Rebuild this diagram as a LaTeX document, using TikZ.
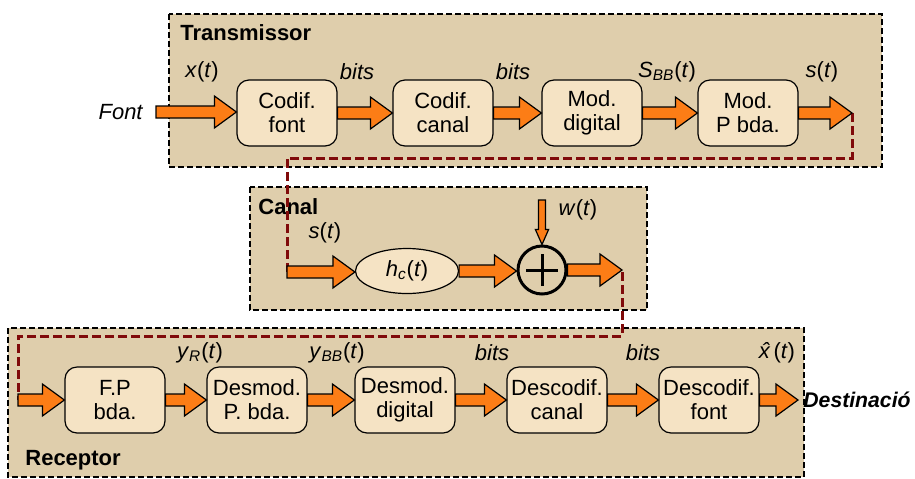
\documentclass[tikz,border=0pt]{standalone}
\usepackage{fontspec}
\setmainfont{Liberation Sans}
\usetikzlibrary{calc,shapes.geometric}

\definecolor{groupbg}{RGB}{223,206,172}
\definecolor{boxbg}{RGB}{245,227,196}
\definecolor{arrowor}{RGB}{252,125,22}
\definecolor{linkred}{RGB}{128,10,10}

\newcommand{\sz}{\fontsize{11}{12}\selectfont}

\tikzset{
  group/.style={draw, fill=groupbg, dash pattern=on 3pt off 1.5pt, line width=0.6pt},
  block/.style={draw, fill=boxbg, rounded corners=6pt, minimum width=50pt,
    minimum height=33pt, align=center, line width=0.6pt, inner sep=1pt},
  title/.style={font=\sz\bfseries, anchor=west, inner sep=0pt},
  link/.style={draw=linkred, line width=1.5pt, dash pattern=on 4.5pt off 2pt},
  fatarr/.style={draw, fill=arrowor, line width=0.6pt, line join=miter}
}

% thick orange arrow from #1 to #2 (horizontal)
\newcommand{\fatarrow}[2]{%
  \draw[fatarr] let \p1=(#1), \p2=(#2) in
    (\x1,\y1+3pt) -- (\x2-11pt,\y1+3pt) -- (\x2-11pt,\y1+8pt) -- (\x2,\y1)
    -- (\x2-11pt,\y1-8pt) -- (\x2-11pt,\y1-3pt) -- (\x1,\y1-3pt) -- cycle;}

\begin{document}
\begin{tikzpicture}[x=0.5pt, y=-0.5pt, font=\sz]
  \useasboundingbox (0,0) rectangle (915,478);

  % groups
  \draw[group] (169,14) rectangle (882,167);
  \draw[group] (250,187) rectangle (647,310);
  \draw[group] (8,328) rectangle (804,477);
  \node[title] (ttx) at (180,33) {Transmissor};
  \node[title] (tch) at (258,207) {Canal};
  \node[title] (trx) at (25,460) {Receptor};

  % free ends
  \coordinate (sout) at (852,113);
  \coordinate (cin) at (287,272);
  \coordinate (cout) at (622,272);
  \coordinate (rin) at (18,400);
  \coordinate (wtop) at (542,200);

  % channel links
  \draw[link] (sout) -- ++(0,45) -| (cin);
  \draw[link] (cout) -- ++(0,64) -| (rin);

  % transmissor
  \node[font=\sz\itshape, anchor=east, inner sep=6.5pt] (font) at (156,112) {Font};
  \node[block] (cf) at (287,113) {Codif.\\font};
  \node[block] (cc) at (443,113) {Codif.\\canal};
  \node[block] (md) at (592,113) {Mod.\\digital};
  \node[block] (mp) at (748,113) {Mod.\\P bda.};
  \fatarrow{font.east}{cf.west}
  \fatarrow{cf.east}{cc.west}
  \fatarrow{cc.east}{md.west}
  \fatarrow{md.east}{mp.west}
  \fatarrow{mp.east}{sout}
  \node (lx) at (202,72) {\textit{x}(\textit{t})};
  \node (lb1) at (357,72) {\textit{bits}};
  \node (lb2) at (513,72) {\textit{bits}};
  \node (lsbb) at (667,72) {\textit{S}\textsubscript{\textit{BB}}(\textit{t})};
  \node (ls) at (822,72) {\textit{s}(\textit{t})};

  % canal
  \node[draw, ellipse, fill=boxbg, minimum width=51.5pt, minimum height=22.5pt,
    line width=0.6pt, inner sep=0pt] (hc) at (407,271)
    {\textit{h}\textsubscript{\textit{c}}(\textit{t})};
  \node[draw, circle, line width=1.5pt, minimum size=24pt, inner sep=0pt] (sum) at (542,270) {};
  \draw[line width=1.5pt] ([xshift=-8pt]sum.center) -- ([xshift=8pt]sum.center)
    ([yshift=-8pt]sum.center) -- ([yshift=8pt]sum.center);
  \fatarrow{cin}{hc.west}
  \fatarrow{hc.east}{sum.west}
  \fatarrow{sum.east}{cout}
  \draw[fatarr] let \p1=(wtop), \p2=(sum.north) in
    (\x1-1.75pt,\y1) -- (\x1-1.75pt,\y2+7.5pt) -- (\x1-3.3pt,\y2+7.5pt) -- (\x1,\y2)
    -- (\x1+3.3pt,\y2+7.5pt) -- (\x1+1.75pt,\y2+7.5pt) -- (\x1+1.75pt,\y1) -- cycle;
  \node (lcs) at (325,233) {\textit{s}(\textit{t})};
  \node (lw) at (578,210) {\textit{w}(\textit{t})};

  % receptor
  \node[block] (fp) at (115,400) {F.P\\bda.};
  \node[block] (dp) at (257,400) {Desmod.\\P. bda.};
  \node[block] (dd) at (405,400) {Desmod.\\digital};
  \node[block] (dc) at (557,400) {Descodif.\\canal};
  \node[block] (df) at (709,400) {Descodif.\\font};
  \node[font=\fontsize{10.6}{12}\selectfont\bfseries\itshape, anchor=west, inner sep=2.5pt]
    (dest) at (798,400) {Destinació};
  \fatarrow{rin}{fp.west}
  \fatarrow{fp.east}{dp.west}
  \fatarrow{dp.east}{dd.west}
  \fatarrow{dd.east}{dc.west}
  \fatarrow{dc.east}{df.west}
  \fatarrow{df.east}{dest.west}
  \node (lyr) at (200,353) {\textit{y}\textsubscript{\textit{R}}(\textit{t})};
  \node (lybb) at (337,353) {\textit{y}\textsubscript{\textit{BB}}(\textit{t})};
  \node (lb3) at (492,353) {\textit{bits}};
  \node (lb4) at (643,353) {\textit{bits}};
  \node (lxh) at (777,353) {\textit{\^{x}}(\textit{t})};
\end{tikzpicture}
\end{document}
